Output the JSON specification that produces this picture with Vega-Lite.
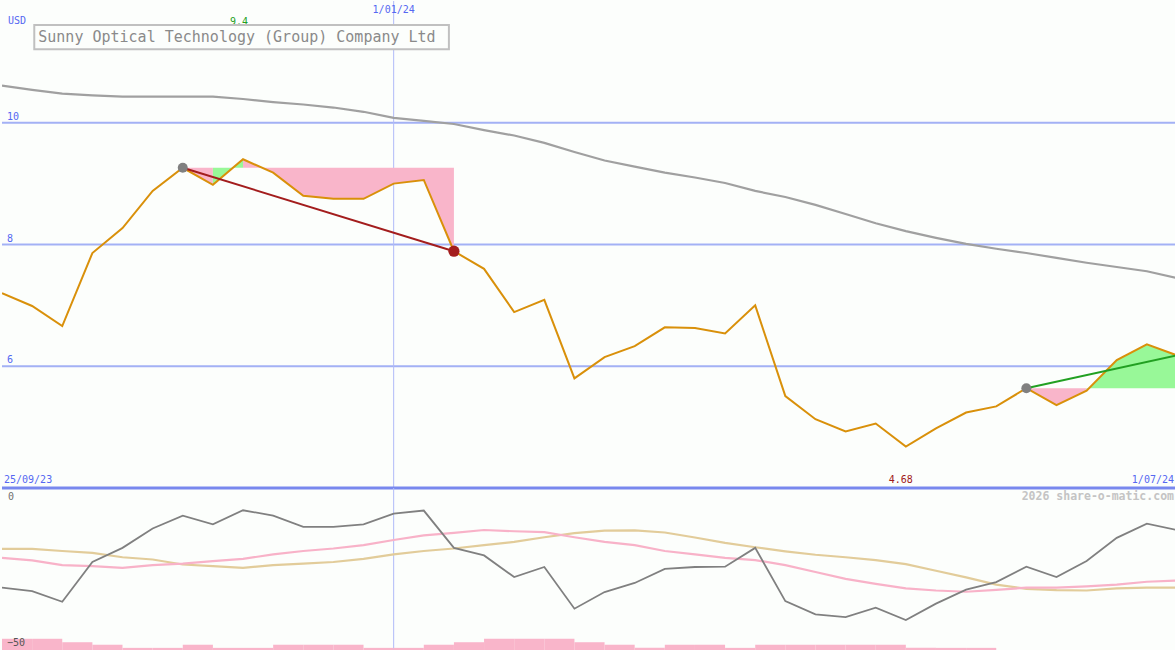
{
  "$schema": "https://vega.github.io/schema/vega-lite/v6.json",
  "background": "#fcfefc",
  "padding": 0,
  "spacing": 0,
  "bounds": "flush",
  "config": {"view": {"stroke": null}, "text": {"font": "DejaVu Sans Mono"}},
  "datasets": {
    "price": [
      {"d":"2023-10-02T00:00:00","close":7.20,"ma":10.61},
      {"d":"2023-10-09T00:00:00","close":6.99,"ma":10.54},
      {"d":"2023-10-16T00:00:00","close":6.66,"ma":10.48},
      {"d":"2023-10-23T00:00:00","close":7.86,"ma":10.45},
      {"d":"2023-10-30T00:00:00","close":8.27,"ma":10.43},
      {"d":"2023-11-06T00:00:00","close":8.88,"ma":10.43},
      {"d":"2023-11-13T00:00:00","close":9.26,"ma":10.43},
      {"d":"2023-11-20T00:00:00","close":8.98,"ma":10.43},
      {"d":"2023-11-27T00:00:00","close":9.40,"ma":10.39},
      {"d":"2023-12-04T00:00:00","close":9.18,"ma":10.34},
      {"d":"2023-12-11T00:00:00","close":8.80,"ma":10.30},
      {"d":"2023-12-18T00:00:00","close":8.75,"ma":10.25},
      {"d":"2023-12-25T00:00:00","close":8.75,"ma":10.18},
      {"d":"2024-01-01T00:00:00","close":9.00,"ma":10.08},
      {"d":"2024-01-08T00:00:00","close":9.06,"ma":10.03},
      {"d":"2024-01-15T00:00:00","close":7.89,"ma":9.98},
      {"d":"2024-01-22T00:00:00","close":7.60,"ma":9.88},
      {"d":"2024-01-29T00:00:00","close":6.89,"ma":9.79},
      {"d":"2024-02-05T00:00:00","close":7.09,"ma":9.67},
      {"d":"2024-02-12T00:00:00","close":5.80,"ma":9.52},
      {"d":"2024-02-19T00:00:00","close":6.15,"ma":9.38},
      {"d":"2024-02-26T00:00:00","close":6.33,"ma":9.28},
      {"d":"2024-03-04T00:00:00","close":6.64,"ma":9.18},
      {"d":"2024-03-11T00:00:00","close":6.63,"ma":9.10},
      {"d":"2024-03-18T00:00:00","close":6.54,"ma":9.01},
      {"d":"2024-03-25T00:00:00","close":7.00,"ma":8.88},
      {"d":"2024-04-01T00:00:00","close":5.51,"ma":8.78},
      {"d":"2024-04-08T00:00:00","close":5.13,"ma":8.65},
      {"d":"2024-04-15T00:00:00","close":4.93,"ma":8.50},
      {"d":"2024-04-22T00:00:00","close":5.06,"ma":8.35},
      {"d":"2024-04-29T00:00:00","close":4.68,"ma":8.22},
      {"d":"2024-05-06T00:00:00","close":4.98,"ma":8.11},
      {"d":"2024-05-13T00:00:00","close":5.24,"ma":8.01},
      {"d":"2024-05-20T00:00:00","close":5.34,"ma":7.93},
      {"d":"2024-05-27T00:00:00","close":5.64,"ma":7.86},
      {"d":"2024-06-03T00:00:00","close":5.36,"ma":7.78},
      {"d":"2024-06-10T00:00:00","close":5.60,"ma":7.70},
      {"d":"2024-06-17T00:00:00","close":6.10,"ma":7.63},
      {"d":"2024-06-24T00:00:00","close":6.36,"ma":7.56},
      {"d":"2024-07-01T00:00:00","close":6.18,"ma":7.45}
    ],
    "fills": [
      {"g":"A","c":"dn","d":"2023-11-13T00:00:00","p":9.26,"r":9.26},
      {"g":"A","c":"dn","d":"2023-11-20T00:00:00","p":8.98,"r":9.26},
      {"g":"B","c":"up","d":"2023-11-20T00:00:00","p":8.98,"r":9.26},
      {"g":"B","c":"up","d":"2023-11-27T00:00:00","p":9.40,"r":9.26},
      {"g":"C","c":"dn","d":"2023-11-27T00:00:00","p":9.40,"r":9.26},
      {"g":"C","c":"dn","d":"2023-12-04T00:00:00","p":9.18,"r":9.26},
      {"g":"C","c":"dn","d":"2023-12-11T00:00:00","p":8.80,"r":9.26},
      {"g":"C","c":"dn","d":"2023-12-18T00:00:00","p":8.75,"r":9.26},
      {"g":"C","c":"dn","d":"2023-12-25T00:00:00","p":8.75,"r":9.26},
      {"g":"C","c":"dn","d":"2024-01-01T00:00:00","p":9.00,"r":9.26},
      {"g":"C","c":"dn","d":"2024-01-08T00:00:00","p":9.06,"r":9.26},
      {"g":"C","c":"dn","d":"2024-01-15T00:00:00","p":7.89,"r":9.26},
      {"g":"D","c":"dn","d":"2024-05-27T00:00:00","p":5.64,"r":5.64},
      {"g":"D","c":"dn","d":"2024-06-03T00:00:00","p":5.36,"r":5.64},
      {"g":"D","c":"dn","d":"2024-06-10T00:00:00","p":5.60,"r":5.64},
      {"g":"E","c":"up","d":"2024-06-10T00:00:00","p":5.60,"r":5.64},
      {"g":"E","c":"up","d":"2024-06-17T00:00:00","p":6.10,"r":5.64},
      {"g":"E","c":"up","d":"2024-06-24T00:00:00","p":6.36,"r":5.64},
      {"g":"E","c":"up","d":"2024-07-01T00:00:00","p":6.18,"r":5.64}
    ],
    "trend": [
      {"g":"fall","d":"2023-11-13T00:00:00","v":9.26},
      {"g":"fall","d":"2024-01-15T00:00:00","v":7.89},
      {"g":"rise","d":"2024-05-27T00:00:00","v":5.64},
      {"g":"rise","d":"2024-07-01T00:00:00","v":6.18}
    ],
    "dots": [
      {"k":"start","d":"2023-11-13T00:00:00","v":9.26},
      {"k":"end","d":"2024-01-15T00:00:00","v":7.89},
      {"k":"start","d":"2024-05-27T00:00:00","v":5.64}
    ],
    "osc": [
      {"d":"2023-10-02T00:00:00","w":-30.8,"p":-21.3,"t":-18.4},
      {"d":"2023-10-09T00:00:00","w":-31.9,"p":-22.1,"t":-18.4},
      {"d":"2023-10-16T00:00:00","w":-35.3,"p":-23.6,"t":-19.1},
      {"d":"2023-10-23T00:00:00","w":-22.6,"p":-23.9,"t":-19.7},
      {"d":"2023-10-30T00:00:00","w":-18.1,"p":-24.5,"t":-21.1},
      {"d":"2023-11-06T00:00:00","w":-11.9,"p":-23.6,"t":-21.8},
      {"d":"2023-11-13T00:00:00","w":-7.8,"p":-23.1,"t":-23.4},
      {"d":"2023-11-20T00:00:00","w":-10.6,"p":-22.3,"t":-23.9},
      {"d":"2023-11-27T00:00:00","w":-6.1,"p":-21.6,"t":-24.5},
      {"d":"2023-12-04T00:00:00","w":-7.8,"p":-20.2,"t":-23.6},
      {"d":"2023-12-11T00:00:00","w":-11.4,"p":-19.1,"t":-23.1},
      {"d":"2023-12-18T00:00:00","w":-11.4,"p":-18.3,"t":-22.6},
      {"d":"2023-12-25T00:00:00","w":-10.6,"p":-17.2,"t":-21.6},
      {"d":"2024-01-01T00:00:00","w":-7.2,"p":-15.6,"t":-20.2},
      {"d":"2024-01-08T00:00:00","w":-6.2,"p":-14.1,"t":-19.1},
      {"d":"2024-01-15T00:00:00","w":-18.1,"p":-13.3,"t":-18.3},
      {"d":"2024-01-22T00:00:00","w":-20.5,"p":-12.4,"t":-17.2},
      {"d":"2024-01-29T00:00:00","w":-27.4,"p":-12.8,"t":-16.2},
      {"d":"2024-02-05T00:00:00","w":-24.2,"p":-13.1,"t":-14.7},
      {"d":"2024-02-12T00:00:00","w":-37.5,"p":-14.7,"t":-13.4},
      {"d":"2024-02-19T00:00:00","w":-32.2,"p":-16.2,"t":-12.6},
      {"d":"2024-02-26T00:00:00","w":-29.3,"p":-17.2,"t":-12.5},
      {"d":"2024-03-04T00:00:00","w":-24.8,"p":-19.1,"t":-13.2},
      {"d":"2024-03-11T00:00:00","w":-24.2,"p":-20.2,"t":-14.8},
      {"d":"2024-03-18T00:00:00","w":-24.1,"p":-21.3,"t":-16.5},
      {"d":"2024-03-25T00:00:00","w":-18.1,"p":-22.0,"t":-17.9},
      {"d":"2024-04-01T00:00:00","w":-35.1,"p":-23.6,"t":-19.2},
      {"d":"2024-04-08T00:00:00","w":-39.3,"p":-25.8,"t":-20.3},
      {"d":"2024-04-15T00:00:00","w":-40.2,"p":-28.0,"t":-21.1},
      {"d":"2024-04-22T00:00:00","w":-37.2,"p":-29.6,"t":-22.0},
      {"d":"2024-04-29T00:00:00","w":-41.1,"p":-31.0,"t":-23.3},
      {"d":"2024-05-06T00:00:00","w":-35.9,"p":-31.7,"t":-25.4},
      {"d":"2024-05-13T00:00:00","w":-31.4,"p":-32.1,"t":-27.5},
      {"d":"2024-05-20T00:00:00","w":-29.0,"p":-31.5,"t":-29.8},
      {"d":"2024-05-27T00:00:00","w":-24.1,"p":-30.8,"t":-31.2},
      {"d":"2024-06-03T00:00:00","w":-27.4,"p":-30.8,"t":-31.6},
      {"d":"2024-06-10T00:00:00","w":-22.3,"p":-30.4,"t":-31.7},
      {"d":"2024-06-17T00:00:00","w":-14.9,"p":-29.8,"t":-31.0},
      {"d":"2024-06-24T00:00:00","w":-10.4,"p":-28.9,"t":-30.8},
      {"d":"2024-07-01T00:00:00","w":-12.4,"p":-28.5,"t":-30.8}
    ],
    "bars": [
      {"d":"2023-10-02T00:00:00","d2":"2023-10-09T00:00:00","v":-47.1},
      {"d":"2023-10-09T00:00:00","d2":"2023-10-16T00:00:00","v":-47.1},
      {"d":"2023-10-16T00:00:00","d2":"2023-10-23T00:00:00","v":-48.2},
      {"d":"2023-10-23T00:00:00","d2":"2023-10-30T00:00:00","v":-49.0},
      {"d":"2023-10-30T00:00:00","d2":"2023-11-06T00:00:00","v":-50.0},
      {"d":"2023-11-06T00:00:00","d2":"2023-11-13T00:00:00","v":-50.0},
      {"d":"2023-11-13T00:00:00","d2":"2023-11-20T00:00:00","v":-49.0},
      {"d":"2023-11-20T00:00:00","d2":"2023-11-27T00:00:00","v":-50.0},
      {"d":"2023-11-27T00:00:00","d2":"2023-12-04T00:00:00","v":-50.0},
      {"d":"2023-12-04T00:00:00","d2":"2023-12-11T00:00:00","v":-49.0},
      {"d":"2023-12-11T00:00:00","d2":"2023-12-18T00:00:00","v":-49.0},
      {"d":"2023-12-18T00:00:00","d2":"2023-12-25T00:00:00","v":-49.0},
      {"d":"2023-12-25T00:00:00","d2":"2024-01-01T00:00:00","v":-50.0},
      {"d":"2024-01-01T00:00:00","d2":"2024-01-08T00:00:00","v":-50.0},
      {"d":"2024-01-08T00:00:00","d2":"2024-01-15T00:00:00","v":-49.0},
      {"d":"2024-01-15T00:00:00","d2":"2024-01-22T00:00:00","v":-48.2},
      {"d":"2024-01-22T00:00:00","d2":"2024-01-29T00:00:00","v":-47.1},
      {"d":"2024-01-29T00:00:00","d2":"2024-02-05T00:00:00","v":-47.1},
      {"d":"2024-02-05T00:00:00","d2":"2024-02-12T00:00:00","v":-47.1},
      {"d":"2024-02-12T00:00:00","d2":"2024-02-19T00:00:00","v":-48.2},
      {"d":"2024-02-19T00:00:00","d2":"2024-02-26T00:00:00","v":-49.0},
      {"d":"2024-02-26T00:00:00","d2":"2024-03-04T00:00:00","v":-50.0},
      {"d":"2024-03-04T00:00:00","d2":"2024-03-11T00:00:00","v":-49.0},
      {"d":"2024-03-11T00:00:00","d2":"2024-03-18T00:00:00","v":-49.0},
      {"d":"2024-03-18T00:00:00","d2":"2024-03-25T00:00:00","v":-50.0},
      {"d":"2024-03-25T00:00:00","d2":"2024-04-01T00:00:00","v":-49.0},
      {"d":"2024-04-01T00:00:00","d2":"2024-04-08T00:00:00","v":-49.0},
      {"d":"2024-04-08T00:00:00","d2":"2024-04-15T00:00:00","v":-49.0},
      {"d":"2024-04-15T00:00:00","d2":"2024-04-22T00:00:00","v":-49.0},
      {"d":"2024-04-22T00:00:00","d2":"2024-04-29T00:00:00","v":-49.0},
      {"d":"2024-04-29T00:00:00","d2":"2024-05-06T00:00:00","v":-50.0},
      {"d":"2024-05-06T00:00:00","d2":"2024-05-13T00:00:00","v":-50.0},
      {"d":"2024-05-13T00:00:00","d2":"2024-05-20T00:00:00","v":-50.0}
    ]
  },
  "vconcat": [
    {
      "width": 1175,
      "height": 487,
      "layer": [
        {
          "data": {"values": [{"v": 10}, {"v": 8}, {"v": 6}]},
          "mark": {"type": "rule", "color": "#a3b1f5", "strokeWidth": 2},
          "encoding": {"y": {"field": "v", "type": "quantitative", "scale": {"domain": [4, 12], "nice": false, "zero": false}, "axis": null}}
        },
        {
          "data": {"values": [{"d": "2024-01-01T00:00:00"}]},
          "mark": {"type": "rule", "color": "#b0bbf8", "strokeWidth": 1},
          "encoding": {"x": {"field": "d", "type": "temporal", "scale": {"domain": [{"year": 2023, "month": 10, "date": 2}, {"year": 2024, "month": 7, "date": 1}], "nice": false}, "axis": null}}
        },
        {
          "data": {"values": [{"v": 4}]},
          "mark": {"type": "rule", "color": "#7888ee", "strokeWidth": 3},
          "encoding": {"y": {"field": "v", "type": "quantitative", "axis": null}}
        },
        {
          "data": {"name": "fills"},
          "transform": [{"filter": "datum.c === 'dn'"}],
          "mark": {"type": "area", "color": "#f9b5ca", "opacity": 1, "clip": true},
          "encoding": {
            "x": {"field": "d", "type": "temporal", "axis": null},
            "y": {"field": "p", "type": "quantitative", "axis": null},
            "y2": {"field": "r"},
            "detail": {"field": "g", "type": "nominal"}
          }
        },
        {
          "data": {"name": "fills"},
          "transform": [{"filter": "datum.c === 'up'"}],
          "mark": {"type": "area", "color": "#98f898", "opacity": 1, "clip": true},
          "encoding": {
            "x": {"field": "d", "type": "temporal", "axis": null},
            "y": {"field": "p", "type": "quantitative", "axis": null},
            "y2": {"field": "r"},
            "detail": {"field": "g", "type": "nominal"}
          }
        },
        {
          "data": {"name": "price"},
          "mark": {"type": "line", "color": "#a0a0a0", "strokeWidth": 2.2, "clip": true},
          "encoding": {
            "x": {"field": "d", "type": "temporal", "axis": null},
            "y": {"field": "ma", "type": "quantitative", "axis": null}
          }
        },
        {
          "data": {"name": "price"},
          "mark": {"type": "line", "color": "#d9900a", "strokeWidth": 2, "clip": true},
          "encoding": {
            "x": {"field": "d", "type": "temporal", "axis": null},
            "y": {"field": "close", "type": "quantitative", "axis": null}
          }
        },
        {
          "data": {"name": "trend"},
          "transform": [{"filter": "datum.g === 'fall'"}],
          "mark": {"type": "line", "color": "#a31d1d", "strokeWidth": 2},
          "encoding": {
            "x": {"field": "d", "type": "temporal", "axis": null},
            "y": {"field": "v", "type": "quantitative", "axis": null}
          }
        },
        {
          "data": {"name": "trend"},
          "transform": [{"filter": "datum.g === 'rise'"}],
          "mark": {"type": "line", "color": "#22a022", "strokeWidth": 2},
          "encoding": {
            "x": {"field": "d", "type": "temporal", "axis": null},
            "y": {"field": "v", "type": "quantitative", "axis": null}
          }
        },
        {
          "data": {"name": "dots"},
          "transform": [{"filter": "datum.k === 'start'"}],
          "mark": {"type": "circle", "color": "#808080", "opacity": 1, "size": 100},
          "encoding": {
            "x": {"field": "d", "type": "temporal", "axis": null},
            "y": {"field": "v", "type": "quantitative", "axis": null}
          }
        },
        {
          "data": {"name": "dots"},
          "transform": [{"filter": "datum.k === 'end'"}],
          "mark": {"type": "circle", "color": "#a31d1d", "opacity": 1, "size": 125},
          "encoding": {
            "x": {"field": "d", "type": "temporal", "axis": null},
            "y": {"field": "v", "type": "quantitative", "axis": null}
          }
        },
        {
          "data": {"values": [{"d": "2023-10-02T00:00:00", "v": 10}, {"d": "2023-10-02T00:00:00", "v": 8}, {"d": "2023-10-02T00:00:00", "v": 6}]},
          "mark": {"type": "text", "color": "#5568f2", "fontSize": 10, "align": "left", "baseline": "middle", "dx": 5, "dy": -6},
          "encoding": {
            "x": {"field": "d", "type": "temporal", "axis": null},
            "y": {"field": "v", "type": "quantitative", "axis": null},
            "text": {"field": "v", "type": "quantitative"}
          }
        },
        {
          "data": {"values": [{"d": "2023-10-02T00:00:00", "t": "USD"}]},
          "mark": {"type": "text", "color": "#5568f2", "fontSize": 10, "align": "left", "baseline": "middle", "dx": 6, "dy": 20},
          "encoding": {
            "x": {"field": "d", "type": "temporal", "axis": null},
            "y": {"datum": 12, "type": "quantitative"},
            "text": {"field": "t", "type": "nominal"}
          }
        },
        {
          "data": {"values": [{"d": "2024-01-01T00:00:00", "t": "1/01/24"}]},
          "mark": {"type": "text", "color": "#5568f2", "fontSize": 10, "align": "center", "baseline": "middle", "dy": 9},
          "encoding": {
            "x": {"field": "d", "type": "temporal", "axis": null},
            "y": {"datum": 12, "type": "quantitative"},
            "text": {"field": "t", "type": "nominal"}
          }
        },
        {
          "data": {"values": [{"d": "2023-10-02T00:00:00", "t": "25/09/23"}]},
          "mark": {"type": "text", "color": "#5568f2", "fontSize": 10, "align": "left", "baseline": "middle", "dx": 2, "dy": -8},
          "encoding": {
            "x": {"field": "d", "type": "temporal", "axis": null},
            "y": {"datum": 4, "type": "quantitative"},
            "text": {"field": "t", "type": "nominal"}
          }
        },
        {
          "data": {"values": [{"d": "2024-07-01T00:00:00", "t": "1/07/24"}]},
          "mark": {"type": "text", "color": "#5568f2", "fontSize": 10, "align": "right", "baseline": "middle", "dx": -3, "dy": -8},
          "encoding": {
            "x": {"field": "d", "type": "temporal", "axis": null},
            "y": {"datum": 4, "type": "quantitative"},
            "text": {"field": "t", "type": "nominal"}
          }
        },
        {
          "data": {"name": "price"},
          "transform": [
            {"joinaggregate": [{"op": "max", "field": "close", "as": "hi"}]},
            {"filter": "datum.close === datum.hi"}
          ],
          "mark": {"type": "text", "color": "#22a022", "fontSize": 10, "align": "center", "baseline": "middle", "dx": -4, "dy": 21},
          "encoding": {
            "x": {"field": "d", "type": "temporal", "axis": null},
            "y": {"datum": 12, "type": "quantitative"},
            "text": {"field": "close", "type": "quantitative", "format": ".3~f"}
          }
        },
        {
          "data": {"name": "price"},
          "transform": [
            {"joinaggregate": [{"op": "min", "field": "close", "as": "lo"}]},
            {"filter": "datum.close === datum.lo"}
          ],
          "mark": {"type": "text", "color": "#a01818", "fontSize": 10, "align": "center", "baseline": "middle", "dx": -5, "dy": -8},
          "encoding": {
            "x": {"field": "d", "type": "temporal", "axis": null},
            "y": {"datum": 4, "type": "quantitative"},
            "text": {"field": "close", "type": "quantitative", "format": ".3~f"}
          }
        },
        {
          "data": {"values": [{"a": "2023-10-09T12:00:00", "b": "2024-01-13T20:00:00"}]},
          "mark": {"type": "rect", "fill": "#fcfefc", "stroke": "#c0c0c0", "strokeWidth": 2},
          "encoding": {
            "x": {"field": "a", "type": "temporal", "axis": null},
            "x2": {"field": "b"},
            "y": {"datum": 11.606, "type": "quantitative"},
            "y2": {"datum": 11.207}
          }
        },
        {
          "data": {"values": [{"a": "2023-10-09T12:00:00", "t": "Sunny Optical Technology (Group) Company Ltd"}]},
          "mark": {"type": "text", "color": "#8a8a8a", "fontSize": 15, "align": "left", "baseline": "middle", "dx": 4},
          "encoding": {
            "x": {"field": "a", "type": "temporal", "axis": null},
            "y": {"datum": 11.41, "type": "quantitative"},
            "text": {"field": "t", "type": "nominal"}
          }
        }
      ]
    },
    {
      "width": 1175,
      "height": 163,
      "layer": [
        {
          "data": {"values": [{"d": "2024-01-01T00:00:00"}]},
          "mark": {"type": "rule", "color": "#b0bbf8", "strokeWidth": 1},
          "encoding": {"x": {"field": "d", "type": "temporal", "scale": {"domain": [{"year": 2023, "month": 10, "date": 2}, {"year": 2024, "month": 7, "date": 1}], "nice": false}, "axis": null}}
        },
        {
          "data": {"name": "bars"},
          "mark": {"type": "rect", "color": "#f9b5ca", "opacity": 1},
          "encoding": {
            "x": {"field": "d", "type": "temporal", "axis": null},
            "x2": {"field": "d2"},
            "y": {"field": "v", "type": "quantitative", "scale": {"domain": [-51, 1], "nice": false, "zero": false}, "axis": null},
            "y2": {"datum": -51}
          }
        },
        {
          "data": {"name": "osc"},
          "mark": {"type": "line", "color": "#e2cc9a", "strokeWidth": 2.2, "clip": true},
          "encoding": {
            "x": {"field": "d", "type": "temporal", "axis": null},
            "y": {"field": "t", "type": "quantitative", "axis": null}
          }
        },
        {
          "data": {"name": "osc"},
          "mark": {"type": "line", "color": "#f8b2c8", "strokeWidth": 2.2, "clip": true},
          "encoding": {
            "x": {"field": "d", "type": "temporal", "axis": null},
            "y": {"field": "p", "type": "quantitative", "axis": null}
          }
        },
        {
          "data": {"name": "osc"},
          "mark": {"type": "line", "color": "#808080", "strokeWidth": 1.8, "clip": true},
          "encoding": {
            "x": {"field": "d", "type": "temporal", "axis": null},
            "y": {"field": "w", "type": "quantitative", "axis": null}
          }
        },
        {
          "data": {"values": [{"d": "2023-10-02T00:00:00", "v": 0}]},
          "mark": {"type": "text", "color": "#707070", "fontSize": 10, "align": "left", "baseline": "middle", "dx": 6, "dy": 6},
          "encoding": {
            "x": {"field": "d", "type": "temporal", "axis": null},
            "y": {"field": "v", "type": "quantitative", "axis": null},
            "text": {"field": "v", "type": "quantitative"}
          }
        },
        {
          "data": {"values": [{"d": "2023-10-02T00:00:00", "v": -50}]},
          "mark": {"type": "text", "color": "#555555", "fontSize": 10, "align": "left", "baseline": "middle", "dx": 5, "dy": -5},
          "encoding": {
            "x": {"field": "d", "type": "temporal", "axis": null},
            "y": {"field": "v", "type": "quantitative", "axis": null},
            "text": {"field": "v", "type": "quantitative"}
          }
        },
        {
          "data": {"values": [{"d": "2024-07-01T00:00:00", "t": "2026 share-o-matic.com"}]},
          "mark": {"type": "text", "color": "#c4c4c4", "fontSize": 11.5, "fontWeight": "bold", "align": "right", "baseline": "middle", "dx": -3, "dy": 6},
          "encoding": {
            "x": {"field": "d", "type": "temporal", "axis": null},
            "y": {"datum": 0, "type": "quantitative"},
            "text": {"field": "t", "type": "nominal"}
          }
        }
      ]
    }
  ]
}
